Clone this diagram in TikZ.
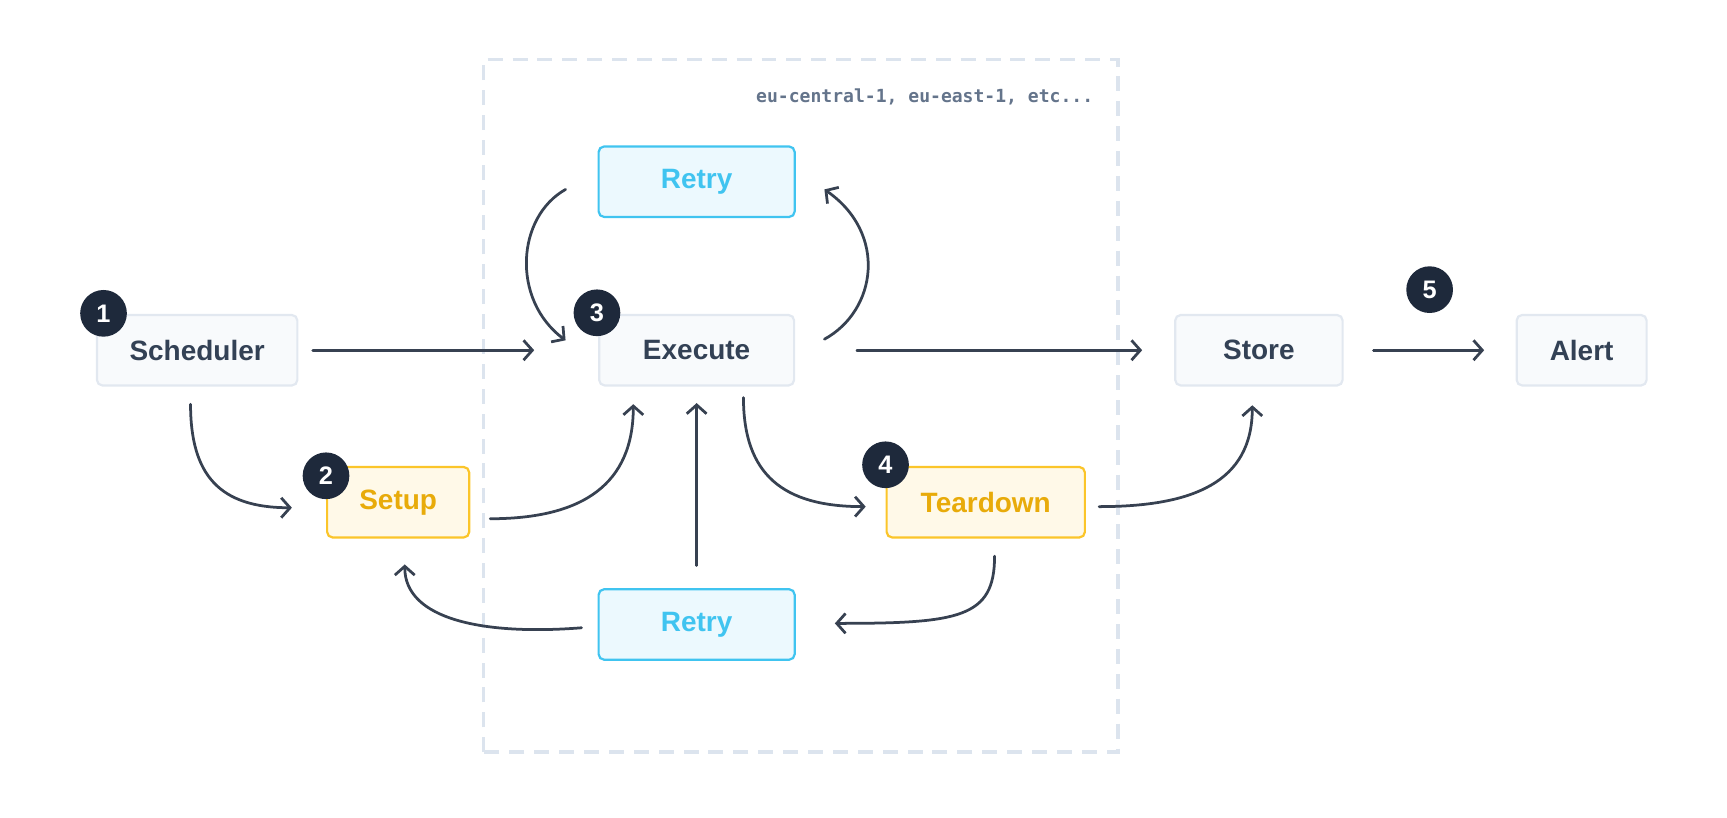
\documentclass[tikz,border=0pt]{standalone}
\usepackage{fontspec}
\setmainfont{Liberation Sans}
\newfontfamily\regionfont{DejaVu Sans Mono}
\usetikzlibrary{arrows.meta}

\definecolor{ink}{RGB}{51,65,85}
\definecolor{arrowc}{RGB}{55,65,81}
\definecolor{badgefill}{RGB}{30,41,59}
\definecolor{boxfill}{RGB}{248,250,252}
\definecolor{boxline}{RGB}{226,232,240}
\definecolor{retryfill}{RGB}{236,249,254}
\definecolor{retryline}{RGB}{64,196,240}
\definecolor{retrytext}{RGB}{64,196,240}
\definecolor{hookfill}{RGB}{255,249,232}
\definecolor{hookline}{RGB}{251,197,42}
\definecolor{hooktext}{RGB}{232,171,10}
\definecolor{dashline}{RGB}{220,228,238}
\definecolor{labelc}{RGB}{100,116,139}

\tikzset{
  box/.style={draw, rounded corners=2.5pt, line width=1pt, minimum height=32pt,
    font=\bfseries\fontsize{12.7}{15}\selectfont},
  plainbox/.style={box, draw=boxline, fill=boxfill, text=ink},
  retrybox/.style={box, draw=retryline, fill=retryfill, text=retrytext},
  hookbox/.style={box, draw=hookline, fill=hookfill, text=hooktext},
  badge/.style={circle, fill=badgefill, text=white, minimum size=21.2pt, inner sep=0pt,
    font=\bfseries\fontsize{11.5}{13}\selectfont},
  flow/.style={draw=arrowc, line width=1.25pt, line cap=round,
    -{Straight Barb[length=4pt,width=9pt]}},
  region/.style={draw=dashline, line width=1.6pt, dash pattern=on 6.8pt off 4.5pt},
}

\begin{document}
\begin{tikzpicture}[x=0.5pt,y=0.5pt]
  \useasboundingbox (0,0) rectangle (1568,742);

  % Region
  \draw[region] (439,59) rectangle (1015,688);
  \node[anchor=east, inner sep=0pt, text=labelc,
        font=\regionfont\bfseries\fontsize{8.2}{10}\selectfont]
        (zones) at (993,654) {eu-central-1, eu-east-1, etc...};

  % Nodes
  \node[plainbox, minimum width=91pt]   (sched)     at (179,424)   {Scheduler};
  \node[plainbox, minimum width=88.5pt] (exec)      at (632.5,424) {Execute};
  \node[retrybox, minimum width=89pt]   (retryup)   at (632.5,577) {Retry};
  \node[retrybox, minimum width=89pt]   (retrydown) at (632.5,175) {Retry};
  \node[hookbox, minimum width=64.5pt]  (setup)     at (361.5,286) {Setup};
  \node[hookbox, minimum width=90pt]    (teardown)  at (895,286)   {Teardown};
  \node[plainbox, minimum width=76pt]   (store)     at (1143,424)  {Store};
  \node[plainbox, minimum width=59pt]   (alert)     at (1436,424)  {Alert};

  % Badges
  \node[badge] (n1) at (94,457.5) {1};
  \node[badge] (n2) at (296,310)  {2};
  \node[badge] (n3) at (542,458)  {3};
  \node[badge] (n4) at (804,320)  {4};
  \node[badge] (n5) at (1298,479) {5};

  % Arrows
  \draw[flow] ([shift={(13,0)}]sched.east) -- ([shift={(-58,0)}]exec.west);
  \draw[flow] ([shift={(56,0)}]exec.east) -- ([shift={(-29,0)}]store.west);
  \draw[flow] ([shift={(27,0)}]store.east) -- ([shift={(-28.5,0)}]alert.west);
  \draw[flow] ([shift={(-6,-16)}]sched.south) .. controls +(0,-64) and +(-66,0) .. ([shift={(-31,-5)}]setup.west);
  \draw[flow] ([shift={(18,-15)}]setup.east) .. controls +(85,0) and +(0,-72) .. ([shift={(-57.5,-16)}]exec.south);
  \draw[flow] ([shift={(42.5,-10)}]exec.south) .. controls +(0,-70) and +(-75,0) .. ([shift={(-18,-4)}]teardown.west);
  \draw[flow] ([shift={(12,-4)}]teardown.east) .. controls +(85,0) and +(0,-70) .. ([shift={(-6,-17)}]store.south);
  \draw[flow] ([shift={(0,20.5)}]retrydown.north) -- ([shift={(0,-15)}]exec.south);
  \draw[flow] ([shift={(-14.5,-3)}]retrydown.west) .. controls +(-89,-7) and +(0,-50) .. ([shift={(6,-23.5)}]setup.south);
  \draw[flow] ([shift={(8,-16)}]teardown.south) .. controls +(0,-56) and +(113,0) .. ([shift={(35.5,1)}]retrydown.east);
  \draw[flow] ([shift={(26.5,10)}]exec.east) .. controls +(47.5,26) and +(57.5,-40) .. ([shift={(26,-7)}]retryup.east);
  \draw[flow] ([shift={(-29,-7)}]retryup.west) .. controls +(-44.5,-25) and +(-49.5,37) .. ([shift={(-29.5,9)}]exec.west);
\end{tikzpicture}
\end{document}
